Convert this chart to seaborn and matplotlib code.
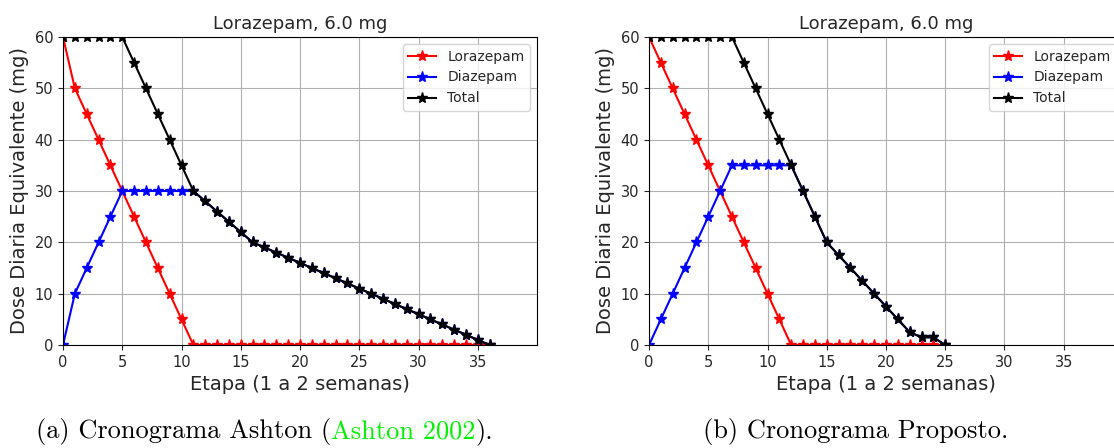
import numpy as np
import pandas as pd
import matplotlib
matplotlib.use("Agg")
import matplotlib.pyplot as plt
import seaborn as sns

# ---------------- data ----------------
steps_a = list(range(0, 37))
loraz_a = [60, 50, 45, 40, 35, 30, 25, 20, 15, 10, 5, 0] + [0] * 25
diaz_a = [0, 10, 15, 20, 25, 30, 30, 30, 30, 30, 30, 30,
          28, 26, 24, 22, 20, 19, 18, 17, 16, 15, 14, 13, 12, 11,
          10, 9, 8, 7, 6, 5, 4, 3, 2, 1, 0]
total_a = [60, 60, 60, 60, 60, 60, 55, 50, 45, 40, 35, 30,
           28, 26, 24, 22, 20, 19, 18, 17, 16, 15, 14, 13, 12, 11,
           10, 9, 8, 7, 6, 5, 4, 3, 2, 1, 0]

steps_b = list(range(0, 26))
loraz_b = [60, 55, 50, 45, 40, 35, 30, 25, 20, 15, 10, 5, 0] + [0] * 13
diaz_b = [0, 5, 10, 15, 20, 25, 30, 35, 35, 35, 35, 35, 35,
          30, 25, 20, 17.5, 15, 12.5, 10, 7.5, 5, 2.5, 1.5, 1.5, 0]
total_b = [60, 60, 60, 60, 60, 60, 60, 60, 55, 50, 45, 40, 35,
           30, 25, 20, 17.5, 15, 12.5, 10, 7.5, 5, 2.5, 1.5, 1.5, 0]

series_names = ["Lorazepam", "Diazepam", "Total"]
series_colors = ["red", "blue", "black"]
title_text = "Lorazepam, 6.0 mg"
xlabel_text = "Etapa (1 a 2 semanas)"
ylabel_text = "Dose Diaria Equivalente (mg)"
xticks = [0, 5, 10, 15, 20, 25, 30, 35]
yticks = [0, 10, 20, 30, 40, 50, 60]

plt.rcParams["font.family"] = ["DejaVu Sans"]

W, H = 1114, 448
fig = plt.figure(figsize=(W / 100, H / 100), dpi=100)

def px_axes(left, right, top, bottom):
    return fig.add_axes([left / W, 1 - bottom / H, (right - left) / W, (bottom - top) / H])

ax_a = px_axes(63, 537, 37, 345)
ax_b = px_axes(649, 1123, 37, 345)

def draw(ax, steps, series):
    for name, col, vals in zip(series_names, series_colors, series):
        df = pd.DataFrame({"x": steps, "y": vals})
        sns.lineplot(data=df, x="x", y="y", ax=ax, color=col, marker="*",
                     markersize=8, markeredgecolor=col, markeredgewidth=1,
                     linewidth=1.5, label=name)
    ax.set_xlim(0, 40)
    ax.set_ylim(0, 60)
    ax.set_xticks(xticks)
    ax.set_yticks(yticks)
    ax.tick_params(labelsize=10.5, colors="#262626")
    ax.grid(True, color="#b0b0b0", linewidth=0.8)
    ax.set_axisbelow(True)
    ax.set_title(title_text, fontsize=13, color="#262626")
    ax.set_xlabel(xlabel_text, fontsize=14, color="#262626")
    ax.set_ylabel(ylabel_text, fontsize=14, color="#262626")
    leg = ax.legend(loc="upper right", fontsize=10)
    for t in leg.get_texts():
        t.set_color("#262626")
    for s in ax.spines.values():
        s.set_color("black")

draw(ax_a, steps_a, [loraz_a, diaz_a, total_a])
draw(ax_b, steps_b, [loraz_b, diaz_b, total_b])

# captions
cap_fs = 19
cap_y = 1 - 431 / H
t1 = fig.text(36 / W, cap_y, "(a) Cronograma Ashton (", family="cmr10",
              fontsize=cap_fs, va="center", ha="left")
a2 = plt.annotate("Ashton 2002", xy=(1, 0), xycoords=t1, va="bottom", ha="left",
                  family="cmr10", fontsize=cap_fs, color="#00ee00",
                  annotation_clip=False)
a3 = plt.annotate(").", xy=(1, 0), xycoords=a2, va="bottom", ha="left",
                  family="cmr10", fontsize=cap_fs, annotation_clip=False)
fig.text(703 / W, cap_y, "(b) Cronograma Proposto.", family="cmr10",
         fontsize=cap_fs, va="center", ha="left")

fig.savefig("out.png", dpi=100)
